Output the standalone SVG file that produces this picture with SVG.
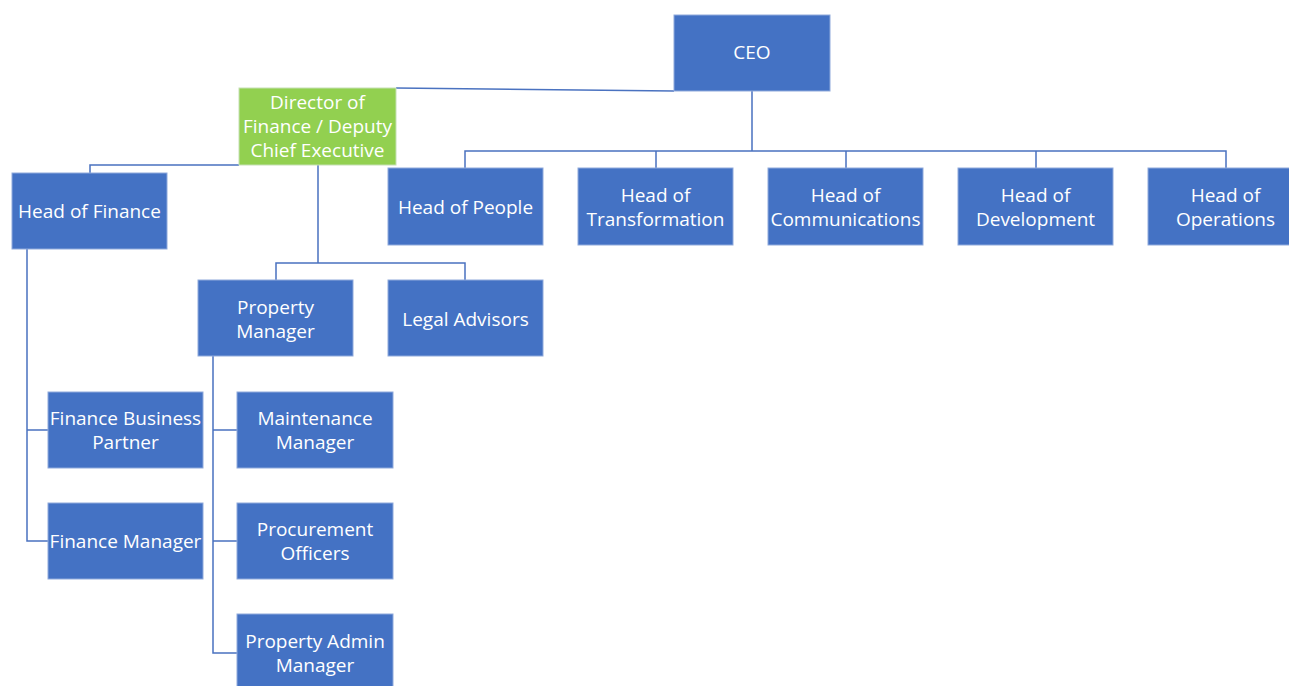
<svg xmlns="http://www.w3.org/2000/svg" width="1289" height="686" viewBox="0 0 1289 686">
<style>
.box{fill:#4472C4;stroke:#8FAADC;stroke-width:1}
.green{fill:#92D050;stroke:#C5E0B4;stroke-width:1}
.t{font-family:"Open Sans","Liberation Sans",sans-serif;font-size:19px;fill:#FFFFFF;text-anchor:middle}
.c{fill:none;stroke:#4A72C0;stroke-width:1.5}
</style>
<rect width="1289" height="686" fill="#FFFFFF"/>
<g id="connectors">
<path class="c" d="M396,88 L674,91"/>
<path class="c" d="M752,91 V151 M465,168 V151 H1226 V168 M656,151 V168 M846,151 V168 M1036,151 V168"/>
<path class="c" d="M239,165 H90 V173"/>
<path class="c" d="M318,165 V263 M276,280 V263 H465 V280"/>
<path class="c" d="M27,248 V541 H48 M27,430 H48"/>
<path class="c" d="M213,356 V653 H237 M213,430 H237 M213,541 H237"/>
</g>
<g id="ceo"><rect class="box" x="674" y="15" width="156" height="76"/><text class="t" x="752" y="59">CEO</text></g>
<g id="director"><rect class="green" x="239" y="88" width="157" height="77"/><text class="t" x="317.5" y="109">Director of</text><text class="t" x="317.5" y="133">Finance / Deputy</text><text class="t" x="317.5" y="157">Chief Executive</text></g>
<g id="head-people"><rect class="box" x="388" y="168" width="155" height="77"/><text class="t" x="465.5" y="214">Head of People</text></g>
<g id="head-transformation"><rect class="box" x="578" y="168" width="155" height="77"/><text class="t" x="655.5" y="202">Head of</text><text class="t" x="655.5" y="226">Transformation</text></g>
<g id="head-communications"><rect class="box" x="768" y="168" width="155" height="77"/><text class="t" x="845.5" y="202">Head of</text><text class="t" x="845.5" y="226">Communications</text></g>
<g id="head-development"><rect class="box" x="958" y="168" width="155" height="77"/><text class="t" x="1035.5" y="202">Head of</text><text class="t" x="1035.5" y="226">Development</text></g>
<g id="head-operations"><rect class="box" x="1148" y="168" width="155" height="77"/><text class="t" x="1225.5" y="202">Head of</text><text class="t" x="1225.5" y="226">Operations</text></g>
<g id="head-finance"><rect class="box" x="12" y="173" width="155" height="76"/><text class="t" x="89.5" y="218">Head of Finance</text></g>
<g id="property-manager"><rect class="box" x="198" y="280" width="155" height="76"/><text class="t" x="275.5" y="314">Property</text><text class="t" x="275.5" y="338">Manager</text></g>
<g id="legal-advisors"><rect class="box" x="388" y="280" width="155" height="76"/><text class="t" x="465.5" y="326">Legal Advisors</text></g>
<g id="finance-business-partner"><rect class="box" x="48" y="392" width="155" height="76"/><text class="t" x="125.5" y="425">Finance Business</text><text class="t" x="125.5" y="449">Partner</text></g>
<g id="finance-manager"><rect class="box" x="48" y="503" width="155" height="76"/><text class="t" x="125.5" y="548">Finance Manager</text></g>
<g id="maintenance-manager"><rect class="box" x="237" y="392" width="156" height="76"/><text class="t" x="315" y="425">Maintenance</text><text class="t" x="315" y="449">Manager</text></g>
<g id="procurement-officers"><rect class="box" x="237" y="503" width="156" height="76"/><text class="t" x="315" y="536">Procurement</text><text class="t" x="315" y="560">Officers</text></g>
<g id="property-admin-manager"><rect class="box" x="237" y="614" width="156" height="76"/><text class="t" x="315" y="648">Property Admin</text><text class="t" x="315" y="672">Manager</text></g>
</svg>
